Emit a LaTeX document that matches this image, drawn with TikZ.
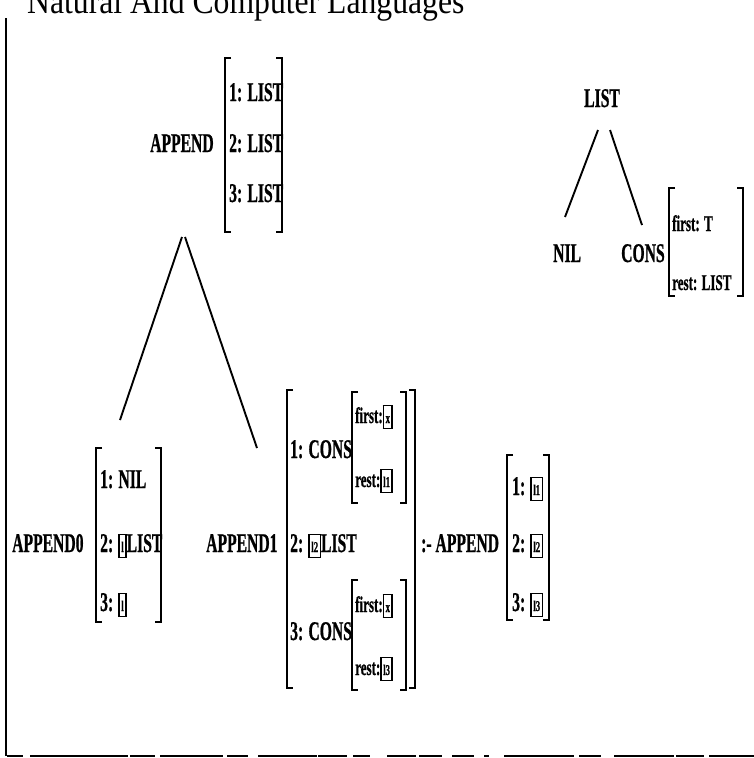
\documentclass[tikz,border=0pt]{standalone}
\usepackage{fontspec}
\setmainfont{Liberation Serif}
\newfontfamily\headfont[FakeStretch=0.88]{Liberation Serif}
\newfontfamily\avmfont[FakeStretch=0.58,FakeBold=0.7]{Liberation Serif}
% boxed tag (coindexing label) set beside a feature value
\newcommand\tagbox[1]{\raisebox{-5pt}{\setlength\fboxsep{0pt}\setlength\fboxrule{1.4pt}\fbox{\rule{0pt}{22pt}\hspace{1.5pt}\raisebox{5pt}{\fontsize{15}{15}\selectfont #1}\hspace{1.5pt}}}}
\tikzset{
  lab/.style={font=\avmfont\bfseries\fontsize{27}{29}\selectfont, inner sep=0pt, anchor=base west},
  feat/.style={font=\avmfont\bfseries\fontsize{22.5}{24}\selectfont, inner sep=0pt, anchor=base west},
  brk/.style={line width=1.9pt},
  edge/.style={line width=1.9pt},
  rule/.style={line width=1.8pt}
}
\begin{document}
\begin{tikzpicture}[x=1pt,y=-1pt]
\useasboundingbox (0,0) rectangle (754,758);
\clip (0,0) rectangle (754,758);

% running head, cut by the top edge
\node[font=\headfont\fontsize{36}{38}\selectfont, inner sep=0pt, anchor=base west] (head) at (27,13) {Natural And Computer Languages};

% frame: left rule and broken bottom rule
\draw[rule] (6,18) -- (6,756);
\foreach \a/\b in {7/23,30/128,130/155,160/223,227/248,258/317,318/347,353/370,387/416,419/442,452/474,484/489,504/574,579/601,614/674,676/704,709/754}
  \draw[rule] (\a,756) -- (\b,756);

% ---------- APPEND [1: LIST, 2: LIST, 3: LIST] ----------
\node[lab] (app) at (150,152) {APPEND};
\draw[brk] (231,58) -| (225,232) -- ++(6,0);
\draw[brk] (276,58) -| (282,232) -- ++(-6,0);
\node[lab] (a1) at (229,101) {1: LIST};
\node[lab] (a2) at (229,152) {2: LIST};
\node[lab] (a3) at (229,202) {3: LIST};
\coordinate (appL) at (182,237);
\coordinate (appR) at (185,237);

% ---------- LIST -> NIL | CONS ----------
\node[lab] (list) at (584,107) {LIST};
\coordinate (listL) at (598,130);
\coordinate (listR) at (610,130);
\coordinate (nilT) at (565,217);
\coordinate (consT) at (642,225);
\node[lab] (nil) at (553,262) {NIL};
\node[lab] (cons) at (621,262) {CONS};
\draw[brk] (675,188) -| (669,296) -- ++(6,0);
\draw[brk] (737,188) -| (743,296) -- ++(-6,0);
\node[feat] (cf) at (672,231) {first: T};
\node[feat] (cr) at (672,290) {rest: LIST};
\draw[edge] (listL) -- (nilT);
\draw[edge] (listR) -- (consT);

% ---------- APPEND0 ----------
\node[lab] (app0) at (12,552) {APPEND0};
\draw[brk] (102,448) -| (96,622) -- ++(6,0);
\draw[brk] (155,448) -| (161,622) -- ++(-6,0);
\node[lab] (b1) at (100,488) {1: NIL};
\node[lab] (b2) at (100,552) {2: \tagbox{l}LIST};
\node[lab] (b3) at (100,611) {3: \tagbox{l}};
\coordinate (app0T) at (120,420);

% ---------- APPEND1 ----------
\node[lab] (app1) at (206,552) {APPEND1};
\draw[brk] (293,390) -| (287,688) -- ++(6,0);
\draw[brk] (409,390) -| (415,688) -- ++(-6,0);
\node[lab] (c1) at (290,458) {1: CONS};
\draw[brk] (358,392) -| (352,503) -- ++(6,0);
\draw[brk] (400,392) -| (406,503) -- ++(-6,0);
\node[feat] (c1f) at (355,423) {first:\tagbox{x}};
\node[feat] (c1r) at (355,487) {rest:\tagbox{l1}};
\node[lab] (c2) at (290,552) {2: \tagbox{l2}LIST};
\node[lab] (c3) at (290,640) {3: CONS};
\draw[brk] (358,580) -| (352,690) -- ++(6,0);
\draw[brk] (400,580) -| (406,690) -- ++(-6,0);
\node[feat] (c3f) at (355,612) {first:\tagbox{x}};
\node[feat] (c3r) at (355,675) {rest:\tagbox{l3}};
\coordinate (app1T) at (257,448);

% ---------- :- APPEND ----------
\node[lab] (body) at (421,552) {:- APPEND};
\draw[brk] (513,455) -| (507,620) -- ++(6,0);
\draw[brk] (543,455) -| (549,620) -- ++(-6,0);
\node[lab] (d1) at (512,495) {1: \tagbox{l1}};
\node[lab] (d2) at (512,552) {2: \tagbox{l2}};
\node[lab] (d3) at (512,611) {3: \tagbox{l3}};

% tree edges
\draw[edge] (appL) -- (app0T);
\draw[edge] (appR) -- (app1T);
\end{tikzpicture}
\end{document}
